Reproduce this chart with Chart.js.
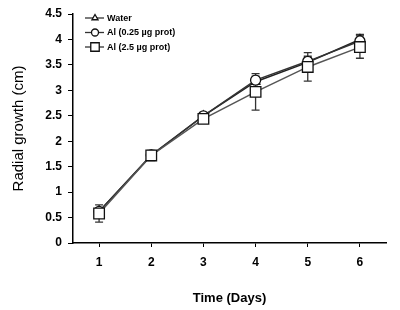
<!DOCTYPE html>
<html>
<head>
<meta charset="utf-8">
<script src="https://cdn.jsdelivr.net/npm/chart.js@4"></script>
<style>
  html, body { margin: 0; padding: 0; background: #fff; }
  #wrap { width: 400px; height: 310px; position: relative; }
</style>
</head>
<body>
<div id="wrap"><canvas id="growthChart"></canvas></div>
<script>
// Радиальный рост по дням
const days = [1, 2, 3, 4, 5, 6];
const seriesNames = ['Water', 'Al (0.25 \u00b5g prot)', 'Al (2.5 \u00b5g prot)'];
const waterVals = [0.62, 1.72, 2.50, 3.17, 3.55, 4.00];
const al025Vals = [0.62, 1.73, 2.50, 3.20, 3.57, 3.97];
const al25Vals = [0.58, 1.72, 2.44, 2.97, 3.46, 3.85];
const waterErr = [0.05, 0.05, 0.05, 0.05, 0.08, 0.10];
const al025Err = [0.05, 0.05, 0.05, 0.08, 0.10, 0.12];
const al25Err = [0.17, 0.10, 0.08, 0.36, 0.28, 0.22];
const yTicks = [0, 0.5, 1, 1.5, 2, 2.5, 3, 3.5, 4, 4.5];

const FONT = '"Liberation Sans", Arial, sans-serif';

function toPoints(vals) {
    return days.map((d, i) => ({ x: d, y: vals[i] }));
}

// Планки погрешностей (рисуются под линиями)
const errorBars = {
    id: 'errorBars',
    beforeDatasetsDraw(chart) {
        const ctx = chart.ctx;
        const xs = chart.scales.x, ys = chart.scales.y;
        ctx.save();
        ctx.strokeStyle = '#333';
        ctx.lineWidth = 1.3;
        chart.data.datasets.forEach(ds => {
            ds.data.forEach((p, i) => {
                const e = ds.errors[i];
                const px = xs.getPixelForValue(p.x);
                const top = ys.getPixelForValue(p.y + e);
                const bot = ys.getPixelForValue(p.y - e);
                ctx.beginPath();
                ctx.moveTo(px, top); ctx.lineTo(px, bot);
                ctx.moveTo(px - 4, top); ctx.lineTo(px + 4, top);
                ctx.moveTo(px - 4, bot); ctx.lineTo(px + 4, bot);
                ctx.stroke();
            });
        });
        ctx.restore();
    }
};

// Легенда внутри области графика
const innerLegend = {
    id: 'innerLegend',
    afterDraw(chart) {
        const ctx = chart.ctx;
        const x0 = chart.chartArea.left + 12;
        const y0 = chart.chartArea.top + 4;
        ctx.save();
        chart.data.datasets.forEach((ds, i) => {
            const y = y0 + i * 14.5;
            ctx.strokeStyle = '#333';
            ctx.lineWidth = 1.3;
            ctx.beginPath();
            ctx.moveTo(x0, y); ctx.lineTo(x0 + 19, y);
            ctx.stroke();
            ctx.fillStyle = '#fff';
            ctx.strokeStyle = '#111';
            Chart.helpers.drawPoint(ctx, {
                pointStyle: ds.pointStyle,
                radius: ds.pointRadius - 1.5,
                borderWidth: 1.2
            }, x0 + 10, y);
            ctx.fillStyle = '#000';
            ctx.font = 'bold 9px ' + FONT;
            ctx.textBaseline = 'middle';
            ctx.fillText(ds.label, x0 + 22, y + 0.5);
        });
        ctx.restore();
    }
};

function makeSet(label, vals, errs, style, radius, color, order) {
    return {
        label: label,
        data: toPoints(vals),
        errors: errs,
        order: order,
        borderColor: color,
        borderWidth: 1.5,
        pointStyle: style,
        pointRadius: radius,
        pointBackgroundColor: '#fff',
        pointBorderColor: '#111',
        pointBorderWidth: 1.3,
        tension: 0
    };
}

new Chart(document.getElementById('growthChart'), {
    type: 'line',
    data: {
        datasets: [
            makeSet(seriesNames[0], waterVals, waterErr, 'triangle', 5, '#222', 2),
            makeSet(seriesNames[1], al025Vals, al025Err, 'circle', 5, '#333', 1),
            makeSet(seriesNames[2], al25Vals, al25Err, 'rect', 7.5, '#555', 0)
        ]
    },
    options: {
        responsive: true,
        maintainAspectRatio: false,
        animation: false,
        layout: { padding: { top: 14, right: 14, left: 0, bottom: 0 } },
        plugins: {
            legend: { display: false },
            tooltip: { enabled: false }
        },
        scales: {
            x: {
                type: 'linear',
                min: 0.5,
                max: 6.5,
                afterBuildTicks(axis) {
                    axis.ticks = days.map(v => ({ value: v }));
                },
                afterFit(axis) { axis.height = 67; },
                grid: {
                    drawOnChartArea: false,
                    drawTicks: true,
                    tickLength: 4,
                    color: '#000'
                },
                border: { color: '#000', width: 1.5 },
                ticks: {
                    color: '#000',
                    padding: 8,
                    font: { family: FONT, size: 12, weight: 'bold' }
                },
                title: {
                    display: true,
                    text: 'Time (Days)',
                    color: '#000',
                    padding: { top: 12 },
                    font: { family: FONT, size: 13, weight: 'bold' }
                }
            },
            y: {
                min: 0,
                max: 4.5,
                afterBuildTicks(axis) {
                    axis.ticks = yTicks.map(v => ({ value: v }));
                },
                afterFit(axis) { axis.width = 73; },
                grid: {
                    drawOnChartArea: false,
                    drawTicks: true,
                    tickLength: 5,
                    color: '#000'
                },
                border: { color: '#000', width: 1.5 },
                ticks: {
                    color: '#000',
                    padding: 6,
                    font: { family: FONT, size: 12, weight: 'bold' },
                    callback: v => String(v)
                },
                title: {
                    display: true,
                    text: 'Radial growth (cm)',
                    color: '#000',
                    padding: { top: 10, bottom: 0 },
                    font: { family: FONT, size: 15 }
                }
            }
        }
    },
    plugins: [errorBars, innerLegend]
});
</script>
</body>
</html>
